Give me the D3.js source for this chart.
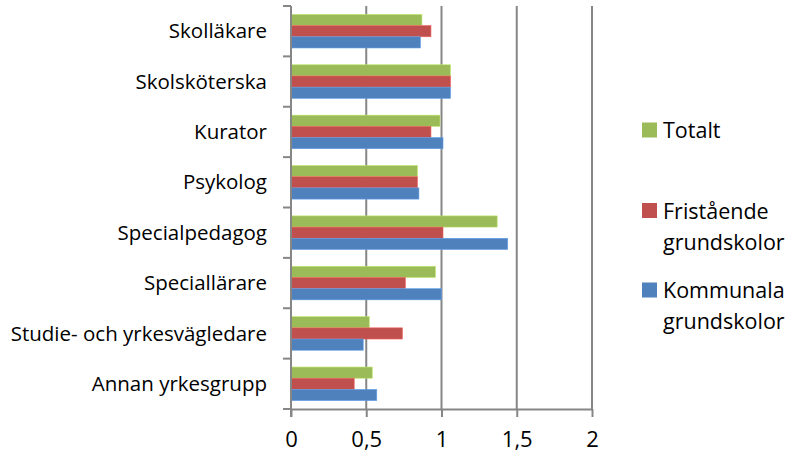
<!DOCTYPE html>
<html>
<head>
<meta charset="utf-8">
<script src="https://cdn.jsdelivr.net/npm/d3@7"></script>
<style>
  body { margin: 0; background: #fff; }
  text { font-family: "Open Sans", sans-serif; fill: #000; }
</style>
</head>
<body>
<script>
// categories top to bottom
var categories = ["Skolläkare", "Skolsköterska", "Kurator", "Psykolog",
  "Specialpedagog", "Speciallärare", "Studie- och yrkesvägledare", "Annan yrkesgrupp"];

var seriesNames = ["Totalt", "Fristående grundskolor", "Kommunala grundskolor"];
var seriesColors = ["#9BBB59", "#C0504D", "#4F81BD"];

var totalt     = [0.87, 1.06, 0.99, 0.84, 1.37, 0.96, 0.52, 0.54];
var fristaende = [0.93, 1.06, 0.93, 0.84, 1.01, 0.76, 0.74, 0.42];
var kommunala  = [0.86, 1.06, 1.01, 0.85, 1.44, 1.00, 0.48, 0.57];

var xTicks = [0, 0.5, 1, 1.5, 2];
var xTickLabels = ["0", "0,5", "1", "1,5", "2"];

var seriesValues = [totalt, fristaende, kommunala];

var width = 794, height = 458;
var plotLeft = 291, plotRight = 592, plotTop = 6, plotBottom = 409;

var svg = d3.select("body").append("svg")
    .attr("width", width)
    .attr("height", height);

var x = d3.scaleLinear().domain([0, 2]).range([plotLeft, plotRight]);
var y = d3.scaleBand().domain(categories).range([plotTop, plotBottom]).padding(0);
var y1 = d3.scaleBand().domain(d3.range(3)).range([0, y.bandwidth()])
    .paddingInner(0).paddingOuter(0.75);

var gridColor = "#868686";

// vertical gridlines
svg.append("g").selectAll("line")
    .data(xTicks.slice(1))
    .enter().append("line")
    .attr("x1", function(d) { return x(d); })
    .attr("x2", function(d) { return x(d); })
    .attr("y1", plotTop)
    .attr("y2", plotBottom)
    .attr("stroke", gridColor)
    .attr("stroke-width", 2);

// bars
var groups = svg.append("g").selectAll("g")
    .data(categories)
    .enter().append("g")
    .attr("transform", function(d) { return "translate(0," + y(d) + ")"; });

groups.selectAll("rect")
    .data(function(d, i) { return seriesValues.map(function(s, k) { return {k: k, v: s[i]}; }); })
    .enter().append("rect")
    .attr("x", x(0))
    .attr("y", function(d) { return y1(d.k); })
    .attr("width", function(d) { return x(d.v) - x(0); })
    .attr("height", y1.bandwidth())
    .attr("fill", function(d) { return seriesColors[d.k]; })
    .attr("stroke", function(d) { return d3.color(seriesColors[d.k]).brighter(0.6); })
    .attr("stroke-width", 0.6);

// x axis
var xAxis = d3.axisBottom(x)
    .tickValues(xTicks)
    .tickFormat(function(d, i) { return xTickLabels[i]; })
    .tickSize(8)
    .tickSizeOuter(0)
    .tickPadding(14);

var gx = svg.append("g")
    .attr("transform", "translate(0," + plotBottom + ")")
    .call(xAxis);
gx.attr("font-size", 22).attr("font-family", "'Open Sans', sans-serif");
gx.select(".domain").attr("stroke", gridColor).attr("stroke-width", 2);
gx.selectAll(".tick line").attr("stroke", gridColor).attr("stroke-width", 2);
gx.selectAll(".tick text").attr("fill", "#000");

// y axis: ticks at band boundaries
var ya = svg.append("g");
ya.append("line")
    .attr("x1", plotLeft).attr("x2", plotLeft)
    .attr("y1", plotTop).attr("y2", plotBottom + 8)
    .attr("stroke", gridColor).attr("stroke-width", 2);
ya.selectAll("line.tk")
    .data(d3.range(categories.length + 1))
    .enter().append("line")
    .attr("class", "tk")
    .attr("x1", plotLeft - 8).attr("x2", plotLeft)
    .attr("y1", function(i) { return plotTop + i * y.step(); })
    .attr("y2", function(i) { return plotTop + i * y.step(); })
    .attr("stroke", gridColor).attr("stroke-width", 2);

ya.selectAll("text")
    .data(categories)
    .enter().append("text")
    .attr("x", 267)
    .attr("y", function(d) { return y(d) + y.bandwidth() / 2; })
    .attr("dy", "0.35em")
    .attr("text-anchor", "end")
    .style("font-size", "20.5px")
    .text(function(d) { return d; });

// legend
var legendItems = [
  {k: 0, lines: ["Totalt"], sq: 122.5, ty: [130]},
  {k: 1, lines: ["Fristående", "grundskolor"], sq: 203, ty: [211, 242]},
  {k: 2, lines: ["Kommunala", "grundskolor"], sq: 282.5, ty: [290, 321]}
];
var lg = svg.append("g");
legendItems.forEach(function(it) {
  lg.append("rect")
    .attr("x", 642).attr("y", it.sq)
    .attr("width", 15).attr("height", 15)
    .attr("fill", seriesColors[it.k]);
  it.lines.forEach(function(t, j) {
    lg.append("text")
      .attr("x", 663)
      .attr("y", it.ty[j])
      .attr("dy", "0.35em")
      .style("font-size", "21.5px")
      .text(t);
  });
});
</script>
</body>
</html>
